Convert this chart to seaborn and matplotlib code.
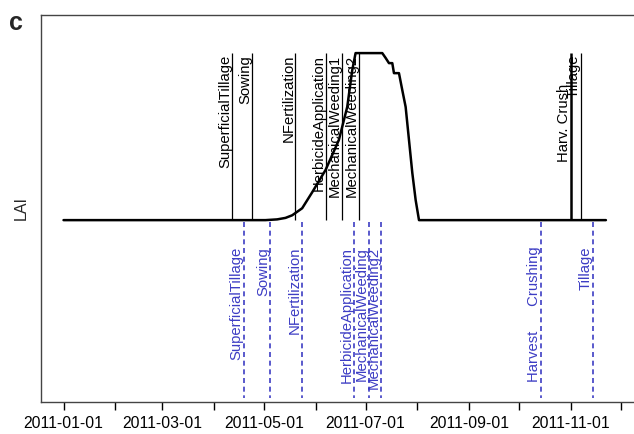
import pandas as pd
import matplotlib
matplotlib.use("Agg")
import matplotlib.pyplot as plt
import seaborn as sns

# simulated LAI curve
lai_dates = ["2011-01-01", "2011-05-02", "2011-05-09", "2011-05-14", "2011-05-18",
             "2011-05-24", "2011-05-30", "2011-06-07", "2011-06-15", "2011-06-20",
             "2011-06-23", "2011-06-25", "2011-07-11", "2011-07-13", "2011-07-15",
             "2011-07-17", "2011-07-18", "2011-07-21", "2011-07-23", "2011-07-25",
             "2011-07-27", "2011-07-29", "2011-07-31", "2011-08-02", "2011-11-22"]
lai_values = [0.0, 0.0, 0.02, 0.06, 0.13,
              0.32, 0.75, 1.35, 2.16, 3.05,
              4.04, 4.5, 4.5, 4.37, 4.23,
              4.23, 3.96, 3.96, 3.50, 3.05,
              2.16, 1.27, 0.54, 0.0, 0.0]

# simulated management events (black, above)
sim_event_dates = ["2011-04-12", "2011-04-24", "2011-05-20", "2011-06-07",
                   "2011-06-17", "2011-06-27", "2011-11-01", "2011-11-07"]
sim_event_labels = ["SuperficialTillage", "Sowing", "NFertilization", "HerbicideApplication",
                    "MechanicalWeeding1", "MechanicalWeeding2", "Harv. Crush       ", "Tillage"]

# observed management events (blue, below)
obs_event_dates = ["2011-04-19", "2011-05-05", "2011-05-24", "2011-06-24",
                   "2011-07-03", "2011-07-10", "2011-10-14", "2011-11-14"]
obs_event_labels = ["SuperficialTillage", "Sowing", "NFertilization", "HerbicideApplication",
                    "MechanicalWeeding", "MechanicalWeeding2", "Harvest      Crushing", "Tillage"]

tick_dates = ["2011-01-01", "2011-02-01", "2011-03-01", "2011-04-01", "2011-05-01", "2011-06-01",
              "2011-07-01", "2011-08-01", "2011-09-01", "2011-10-01", "2011-11-01", "2011-12-01"]
tick_labels = ["2011-01-01", "", "2011-03-01", "", "2011-05-01", "",
               "2011-07-01", "", "2011-09-01", "", "2011-11-01", ""]


def main():
    sns.set_style("ticks")
    plt.rcParams["font.family"] = ["Liberation Sans", "DejaVu Sans"]

    blue = "#3d3dc4"
    lai_top = max(lai_values)

    df = pd.DataFrame({"date": pd.to_datetime(lai_dates), "LAI": lai_values})

    fig = plt.figure(figsize=(6.34, 4.34), dpi=100)
    # the panel runs past the right edge of the picture (cropped figure)
    ax = fig.add_axes([41 / 634, 1 - 402 / 434, (660 - 41) / 634, (402 - 14.5) / 434])

    sns.lineplot(data=df, x="date", y="LAI", color="black", linewidth=1.8, ax=ax)

    sim = pd.to_datetime(sim_event_dates)
    for d, lab in zip(sim, sim_event_labels):
        lw = 1.8 if lab.startswith("Harv") else 0.9
        ax.vlines(d, 0, lai_top, color="black", linewidth=lw)
        ax.text(d, lai_top - 0.05, lab, rotation=90, ha="right", va="top",
                fontsize=10.7, color="black")

    obs = pd.to_datetime(obs_event_dates)
    for d, lab in zip(obs, obs_event_labels):
        ax.vlines(d, -0.05, -4.8, color=blue, linewidth=1.2, linestyles=(0, (3, 2.2)))
        ax.text(d, -0.72, lab, rotation=90, ha="right", va="top",
                fontsize=10.7, color=blue)

    ax.set_xlim(pd.Timestamp("2010-12-18 12:00"), pd.Timestamp("2011-12-24 10:00"))
    ax.set_ylim(-4.9, 5.54)

    ax.set_xticks(pd.to_datetime(tick_dates))
    ax.set_xticklabels(tick_labels)
    ax.set_yticks([])
    ax.tick_params(axis="x", length=6, width=1, direction="out", pad=4,
                   labelsize=11.3, colors="black")

    ax.set_xlabel("")
    ax.set_ylabel("LAI", fontsize=11.5, labelpad=9)

    for side in ["left", "top", "bottom"]:
        ax.spines[side].set_color("#444444")
        ax.spines[side].set_linewidth(1.0)
    ax.spines["right"].set_visible(False)

    fig.text(0.014, 1 - 30 / 434, "c", fontsize=18, fontweight="bold", va="baseline")

    fig.savefig("out.png", dpi=100)


if __name__ == "__main__":
    main()
